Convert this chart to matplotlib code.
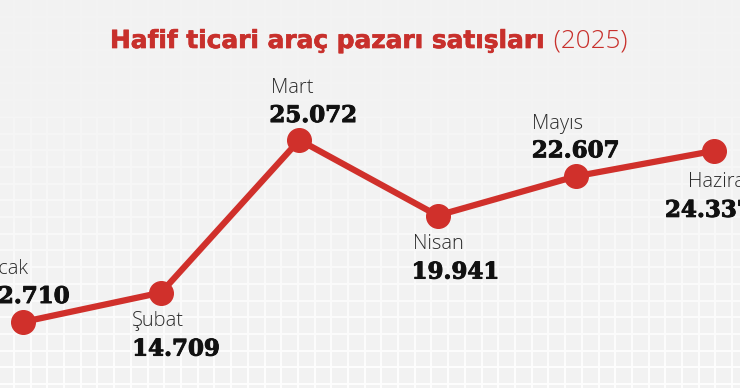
import numpy as np
import matplotlib.pyplot as plt
import matplotlib.patheffects as pe

# data
months = ['Ocak', 'Şubat', 'Mart', 'Nisan', 'Mayıs', 'Haziran']
sales = [12710, 14709, 25072, 19941, 22607, 24337]
sales_text = ['12.710', '14.709', '25.072', '19.941', '22.607', '24.337']

title_main = 'Hafif ticari araç pazarı satışları'
title_year = ' (2025)'

RED = '#d0302b'
TITLE_RED = '#c8302c'
BG = '#f2f2f2'

# label placement in pixels from the point: month dx, month dy, value dx, value dy
label_pos = [(-39, 48, -41, 19), (-29, -33, -29, -63), (-28, 47, -30, 18),
             (-25, -33, -26, -63), (-44, 47, -44, 19), (-26, -36, -49, -66)]

W, H = 740, 388
fig = plt.figure(figsize=(W / 100, H / 100), dpi=100)
fig.patch.set_facecolor(BG)

# faint white grid that fades out towards the top
bg = fig.add_axes([0, 0, 1, 1])
bg.axis('off')
img = np.full((H, W), 242.0)
fade = np.clip((np.arange(H) / H) ** 1.4, 0.1, 1.0)
step = 16.7
for gx in np.arange(13, W, step):
    c = int(round(gx))
    img[:, c:c + 2] = 242 + 11 * fade[:, None]
for gy in np.arange(383, 0, -step):
    r = int(round(gy))
    img[r:r + 2, :] = 242 + 11 * fade[r:r + 2, None]
bg.imshow(img, cmap='gray', vmin=0, vmax=255, aspect='auto',
          extent=(0, 1, 0, 1), interpolation='nearest')
bg.set_xlim(0, 1)
bg.set_ylim(0, 1)

ax = fig.add_axes([0, 0, 1, 1])
ax.set_facecolor('none')
ax.axis('off')
x = np.arange(len(months))
ax.plot(x, sales, color=RED, lw=4.5, solid_capstyle='round', zorder=2)
ax.plot(x, sales, 'o', color=RED, ms=17, zorder=3)
ax.set_xlim(-0.166, 5.188)
ax.set_ylim(8226, 34585)

for i in range(len(months)):
    mdx, mdy, vdx, vdy = label_pos[i]
    ax.annotate(months[i], (x[i], sales[i]), xytext=(mdx, mdy),
                textcoords='offset pixels', ha='left', va='baseline',
                fontsize=14.5, family='Open Sans', fontweight='light',
                color='#2a2a2a')
    ax.annotate(sales_text[i], (x[i], sales[i]), xytext=(vdx, vdy),
                textcoords='offset pixels', ha='left', va='baseline',
                fontsize=16.5, family='DejaVu Serif', fontweight='bold',
                color='#111111',
                path_effects=[pe.withStroke(linewidth=0.7, foreground='#111111')])

# title in two weights, sized so the bold part spans ~435 px
t1 = fig.text(110 / W, 1 - 48 / H, title_main, fontsize=16,
              family='DejaVu Sans', fontweight='bold', color=TITLE_RED,
              ha='left', va='baseline',
              path_effects=[pe.withStroke(linewidth=0.5, foreground=TITLE_RED)])
fig.canvas.draw()
w0 = t1.get_window_extent().width
t1.set_fontsize(16 * 435 / w0)
fig.canvas.draw()
bb = t1.get_window_extent()
fig.text(bb.x1 / W, 1 - 48 / H, title_year, fontsize=t1.get_fontsize() * 1.05,
         family='Open Sans', fontweight='light', color=TITLE_RED,
         ha='left', va='baseline')

fig.savefig('out.png', dpi=100, facecolor=BG)
